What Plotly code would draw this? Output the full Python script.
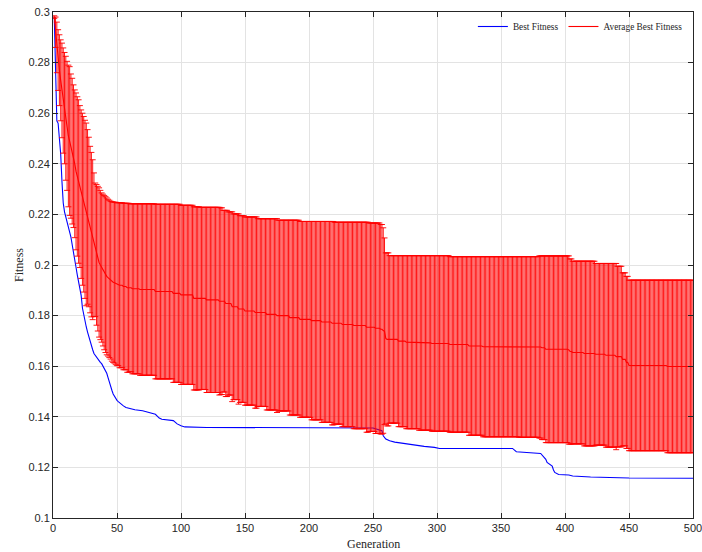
import numpy as np
import plotly.graph_objects as go

# ---------------- data ----------------
generations = np.arange(1, 501)

# Best Fitness: (generation, value) points of the blue curve
best_gen = [1, 2, 3, 4, 5, 6, 7, 8, 9, 10, 11, 12, 13, 14, 15, 16, 17, 18, 19, 20,
            21, 22, 23, 24, 25, 26, 27, 28, 29, 30, 31, 32, 33, 34, 35, 36, 37, 38, 39, 40,
            41, 42, 43, 44, 45, 46, 47, 48, 49, 50, 51, 52, 53, 54, 55, 57, 60, 64, 70, 75,
            80, 83, 85, 94, 97, 100, 103, 120, 200, 250, 257, 258, 260, 263, 267, 281, 290, 298, 302, 359,
            361, 362, 381, 383, 385, 386, 388, 390, 391, 392, 395, 403, 406, 420, 450, 500]
best_val = [0.298, 0.273, 0.257, 0.256, 0.250, 0.244, 0.233, 0.2245, 0.221, 0.219, 0.218, 0.216, 0.214, 0.211, 0.208, 0.2055, 0.202, 0.199, 0.196, 0.1935,
            0.191, 0.188, 0.183, 0.180, 0.1775, 0.1755, 0.1735, 0.1715, 0.1695, 0.168, 0.1665, 0.165, 0.1642, 0.1636, 0.163, 0.1622, 0.1615, 0.161, 0.160, 0.1592,
            0.158, 0.1572, 0.1555, 0.1535, 0.152, 0.1505, 0.149, 0.148, 0.1472, 0.1465, 0.146, 0.1455, 0.145, 0.1447, 0.1443, 0.1437, 0.1432, 0.1428, 0.1424, 0.1418,
            0.141, 0.1395, 0.139, 0.1385, 0.1372, 0.1365, 0.136, 0.1358, 0.1357, 0.1356, 0.1345, 0.1325, 0.1312, 0.1305, 0.130, 0.1288, 0.1283, 0.1279, 0.1275, 0.1275,
            0.1264, 0.1262, 0.1255, 0.1245, 0.1232, 0.122, 0.1212, 0.1205, 0.119, 0.118, 0.1172, 0.117, 0.1166, 0.1162, 0.1158, 0.1157]

# Average Best Fitness (mean): value holds from each listed generation on
mean_gen = list(range(1, 51)) + [52, 55, 58, 62, 68, 80, 94, 100, 110, 120, 130, 135, 140, 145, 150,
                                 158, 167, 175, 185, 193, 202, 210, 218, 226, 235, 245, 252, 256, 258, 259,
                                 260, 261, 270, 276, 286, 296, 310, 325, 336, 364, 382, 385, 403, 404, 406,
                                 415, 424, 432, 440, 445, 448, 450, 480]
mean_val = [0.298, 0.292, 0.286, 0.281, 0.277, 0.273, 0.269, 0.265, 0.262, 0.258,
            0.255, 0.251, 0.249, 0.247, 0.245, 0.243, 0.240, 0.237, 0.235, 0.233,
            0.231, 0.228, 0.226, 0.224, 0.222, 0.220, 0.219, 0.217, 0.214, 0.212,
            0.210, 0.208, 0.206, 0.204, 0.2025, 0.201, 0.200, 0.199, 0.198, 0.197,
            0.1962, 0.1955, 0.195, 0.1945, 0.194, 0.1935, 0.1932, 0.193, 0.1927, 0.1924,
            0.192, 0.1915, 0.191, 0.1906, 0.1903, 0.1895, 0.1888, 0.1882, 0.1868, 0.1862, 0.1857, 0.1848, 0.1835, 0.1826, 0.1818,
            0.1812, 0.1805, 0.180, 0.1792, 0.1785, 0.178, 0.1775, 0.177, 0.1765, 0.1761, 0.1754, 0.175, 0.1746, 0.1741, 0.1738,
            0.171, 0.1706, 0.1699, 0.1695, 0.1692, 0.169, 0.1686, 0.168, 0.1677, 0.1676, 0.1673, 0.1667, 0.1664, 0.1658, 0.1654,
            0.165, 0.1647, 0.1643, 0.1638, 0.1627, 0.1615, 0.1603, 0.1599]

# Upper end of the error bars: value holds from each listed generation on
upper_gen = list(range(1, 49)) + [50, 55, 60, 80, 100, 110, 115, 131, 133, 137, 141, 146, 150, 160, 176,
                                 193, 220, 247, 256, 258, 259, 260, 263, 310, 380, 404, 406, 424, 441, 445,
                                 448, 450]
upper_val = [0.2985, 0.298, 0.296, 0.293, 0.291, 0.289, 0.2877, 0.2858, 0.284, 0.2825,
             0.2805, 0.279, 0.2784, 0.2755, 0.2738, 0.2712, 0.2692, 0.268, 0.2665, 0.2653,
             0.263, 0.2613, 0.260, 0.2587, 0.2572, 0.2561, 0.2535, 0.2505, 0.2469, 0.2445,
             0.2416, 0.2364, 0.2324, 0.2318, 0.2311, 0.2305, 0.2295, 0.2285, 0.228, 0.2275,
             0.227, 0.2265, 0.226, 0.2256, 0.2252, 0.225, 0.2249, 0.2248,
             0.2246, 0.2244, 0.2242, 0.224, 0.2236, 0.223, 0.2228, 0.2226, 0.2216, 0.221, 0.2202, 0.2195, 0.219, 0.2183, 0.2177,
             0.2172, 0.2169, 0.2166, 0.216, 0.2147, 0.2107, 0.2048, 0.2037, 0.2033, 0.2036, 0.2024, 0.2015, 0.2006, 0.1995, 0.1969,
             0.1955, 0.1940]


def hold(keys, vals):
    idx = np.searchsorted(np.asarray(keys), generations, side="right") - 1
    return np.asarray(vals)[idx]


mean_series = hold(mean_gen, mean_val)
upper_series = hold(upper_gen, upper_val)
err_series = upper_series - mean_series

x_ticks = list(range(0, 501, 50))
y_ticks = [round(0.1 + 0.02 * i, 2) for i in range(11)]

# ---------------- figure ----------------
fig = go.Figure()

fig.add_trace(go.Scatter(
    x=best_gen, y=best_val, mode="lines", name="Best Fitness",
    line=dict(color="#0000FF", width=1.1),
))

fig.add_trace(go.Scatter(
    x=generations, y=mean_series, mode="lines", name="Average Best Fitness",
    line=dict(color="#FF0000", width=1.1),
    error_y=dict(type="data", array=err_series, symmetric=True,
                 color="#FF0000", thickness=0.92, width=3),
))

axis_common = dict(
    showline=True, linecolor="#262626", linewidth=1, mirror="ticks",
    ticks="inside", ticklen=5, tickcolor="#262626", tickwidth=1,
    showgrid=True, gridcolor="#E3E3E3", gridwidth=1, zeroline=False,
    ticklabeloverflow="allow",
    tickfont=dict(family="Liberation Sans, Arial", size=11, color="#262626"),
)

fig.update_xaxes(range=[0, 500], tickvals=x_ticks, ticktext=[str(v) for v in x_ticks], **axis_common)
fig.update_yaxes(range=[0.1, 0.3], tickvals=y_ticks, ticktext=[("%g" % v) for v in y_ticks], **axis_common)

fig.update_layout(
    width=702, height=552,
    margin=dict(l=53, r=9, t=12, b=34, autoexpand=False),
    paper_bgcolor="white", plot_bgcolor="white",
    showlegend=True,
    legend=dict(orientation="h", x=0.992, xanchor="right", y=1.0, yanchor="top",
                bgcolor="rgba(0,0,0,0)", borderwidth=0,
                font=dict(family="Liberation Serif, DejaVu Serif", size=9.3, color="#262626"),
                itemwidth=30, tracegroupgap=0),
    annotations=[
        dict(text="Generation", xref="paper", yref="paper", x=0.5, y=0, xanchor="center",
             yanchor="top", yshift=-17, showarrow=False,
             font=dict(family="Liberation Serif, DejaVu Serif", size=12, color="#262626")),
        dict(text="Fitness", xref="paper", yref="paper", x=0, y=0.5, xanchor="center",
             yanchor="middle", xshift=-34, textangle=-90, showarrow=False,
             font=dict(family="Liberation Serif, DejaVu Serif", size=12, color="#262626")),
    ],
)

fig.write_html("out.html", config={"displayModeBar": False},
               post_script="document.body.style.margin='0px';")
